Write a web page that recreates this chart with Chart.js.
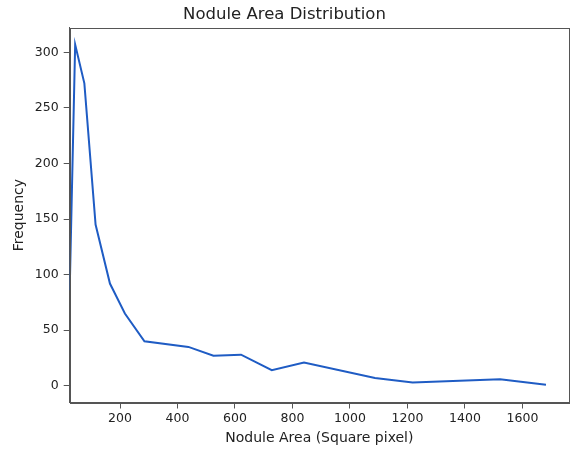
<!DOCTYPE html>
<html>
<head>
<meta charset="utf-8">
<script src="https://cdn.jsdelivr.net/npm/chart.js@4/dist/chart.umd.min.js"></script>
<style>
  html, body { margin: 0; padding: 0; background: #fff; }
  #wrap { width: 574px; height: 450px; }
</style>
</head>
<body>
<div id="wrap"><canvas id="areaChart"></canvas></div>
<script>
// nodule area (square pixel) and frequency
var areas = [25, 44, 76, 115, 165, 217, 285, 438, 525, 621, 728, 840, 1087, 1218, 1522, 1682];
var counts = [86, 307, 272, 145, 92, 65, 40, 35, 27, 28, 14, 21, 7, 3, 6, 1];
var xTicks = [200, 400, 600, 800, 1000, 1200, 1400, 1600];
var yTicks = [0, 50, 100, 150, 200, 250, 300];

var points = areas.map(function (a, i) {
  return { x: a, y: counts[i] };
});

var spineColor = '#555';
var textColor = '#222';

// matplotlib style box around the plot
var frame = {
  id: 'frame',
  afterDraw: function (chart) {
    var a = chart.chartArea;
    var ctx = chart.ctx;
    ctx.save();
    ctx.strokeStyle = spineColor;
    ctx.lineWidth = 1;
    ctx.strokeRect(Math.round(a.left) + 0.5, Math.round(a.top) + 0.5,
      Math.round(a.right - a.left), Math.round(a.bottom - a.top));
    ctx.restore();
  }
};

function plain(value) {
  return String(value);
}

new Chart(document.getElementById('areaChart'), {
  type: 'scatter',
  data: {
    datasets: [
      {
        data: points,
        showLine: true,
        borderColor: '#1f5cc4',
        backgroundColor: '#1f5cc4',
        borderWidth: 2,
        pointRadius: 0,
        tension: 0
      }
    ]
  },
  options: {
    responsive: true,
    maintainAspectRatio: false,
    animation: false,
    layout: {
      padding: { left: 0, right: 5, top: 0, bottom: 0 }
    },
    plugins: {
      legend: { display: false },
      tooltip: { enabled: false },
      title: {
        display: true,
        text: 'Nodule Area Distribution',
        color: textColor,
        font: { family: 'DejaVu Sans', size: 16.5, weight: 'normal' },
        padding: { top: 4.5, bottom: 3.5 }
      }
    },
    scales: {
      x: {
        type: 'linear',
        min: 25,
        max: 1762,
        afterBuildTicks: function (scale) {
          scale.ticks = xTicks.map(function (v) { return { value: v }; });
        },
        afterFit: function (scale) {
          scale.height = 47.5;
        },
        ticks: {
          color: textColor,
          padding: 3,
          maxRotation: 0,
          callback: plain,
          font: { family: 'DejaVu Sans', size: 12.5 }
        },
        grid: {
          drawOnChartArea: false,
          drawTicks: true,
          tickLength: 6,
          color: spineColor
        },
        border: { display: true, color: spineColor, width: 1 },
        title: {
          display: true,
          text: 'Nodule Area (Square pixel)',
          color: textColor,
          font: { family: 'DejaVu Sans', size: 14 },
          padding: { top: 0, bottom: 3.6 }
        }
      },
      y: {
        type: 'linear',
        min: -15,
        max: 322,
        afterBuildTicks: function (scale) {
          scale.ticks = yTicks.map(function (v) { return { value: v }; });
        },
        afterFit: function (scale) {
          scale.width = 69.7;
        },
        ticks: {
          color: textColor,
          padding: 5,
          callback: plain,
          font: { family: 'DejaVu Sans', size: 12.5 }
        },
        grid: {
          drawOnChartArea: false,
          drawTicks: true,
          tickLength: 6,
          color: spineColor
        },
        border: { display: true, color: spineColor, width: 1 },
        title: {
          display: true,
          text: 'Frequency',
          color: textColor,
          font: { family: 'DejaVu Sans', size: 14 },
          padding: { top: 10.9, bottom: 0 }
        }
      }
    }
  },
  plugins: [frame]
});
</script>
</body>
</html>
